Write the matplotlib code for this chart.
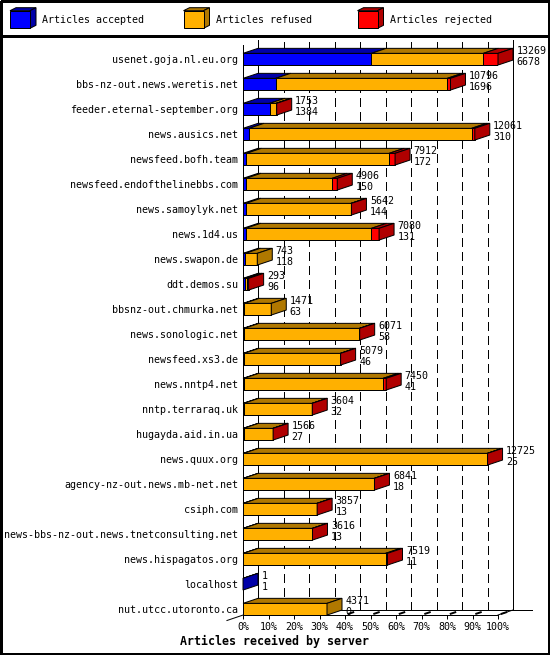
import matplotlib
matplotlib.use("Agg")
import matplotlib.pyplot as plt
from matplotlib.patches import Polygon, Rectangle
from matplotlib.transforms import ScaledTranslation
import numpy as np

# ---------------- data ----------------
servers = [
    "usenet.goja.nl.eu.org",
    "bbs-nz-out.news.weretis.net",
    "feeder.eternal-september.org",
    "news.ausics.net",
    "newsfeed.bofh.team",
    "newsfeed.endofthelinebbs.com",
    "news.samoylyk.net",
    "news.1d4.us",
    "news.swapon.de",
    "ddt.demos.su",
    "bbsnz-out.chmurka.net",
    "news.sonologic.net",
    "newsfeed.xs3.de",
    "news.nntp4.net",
    "nntp.terraraq.uk",
    "hugayda.aid.in.ua",
    "news.quux.org",
    "agency-nz-out.news.mb-net.net",
    "csiph.com",
    "news-bbs-nz-out.news.tnetconsulting.net",
    "news.hispagatos.org",
    "localhost",
    "nut.utcc.utoronto.ca",
]
offered = [13269, 10796, 1753, 12061, 7912, 4906, 5642, 7080, 743, 293, 1471,
           6071, 5079, 7450, 3604, 1566, 12725, 6841, 3857, 3616, 7519, 1, 4371]
accepted = [6678, 1696, 1384, 310, 172, 150, 144, 131, 118, 96, 63,
            58, 46, 41, 32, 27, 25, 18, 13, 13, 11, 1, 0]
refused = [5826, 8930, 329, 11581, 7430, 4481, 5478, 6549, 625, 102, 1408,
           6003, 5023, 7249, 3564, 1531, 12690, 6817, 3839, 3598, 7408, 0, 4371]
rejected = [765, 170, 40, 170, 310, 275, 20, 400, 0, 95, 0,
            10, 10, 160, 8, 8, 10, 6, 5, 5, 100, 0, 0]
x_ticks = [0, 10, 20, 30, 40, 50, 60, 70, 80, 90, 100]
x_tick_labels = ["0%", "10%", "20%", "30%", "40%", "50%", "60%", "70%",
                 "80%", "90%", "100%"]
legend_labels = ["Articles accepted", "Articles refused", "Articles rejected"]
x_title = "Articles received by server"

# ---------------- style ----------------
FRONT = ["#0000FF", "#FFB000", "#FF0000"]
DARK = ["#0000A8", "#B07800", "#B00000"]
LW = 0.72
plt.rcParams["font.family"] = ["DejaVu Sans Mono"]
plt.rcParams["font.size"] = 7.2
plt.rcParams["lines.scale_dashes"] = False

W, H, DPI = 550, 655, 100
fig = plt.figure(figsize=(W / DPI, H / DPI), dpi=DPI)
fig.patch.set_facecolor("white")


def box(x0, y0, x1, y1):
    return [x0 / W, 1 - y1 / H, (x1 - x0) / W, (y1 - y0) / H]


# background / frame axes in pixel units
axbg = fig.add_axes([0, 0, 1, 1])
axbg.set_xlim(0, W)
axbg.set_ylim(H, 0)
axbg.axis("off")
axbg.set_zorder(0)
axbg.add_patch(Rectangle((0.5, 0.5), W - 1.5, H - 1.5, fill=False,
                         edgecolor="black", lw=LW * 1.4, antialiased=False))
axbg.plot([0, W], [35.5, 35.5], color="black", lw=LW * 1.4, antialiased=False)

# legend (3-D cubes)
leg_x = [10, 183.5, 357.5]
for lx, fc, dc, lab in zip(leg_x, FRONT, DARK, legend_labels):
    x0, y0, x1, y1 = lx, 10.7, lx + 20, 28.3
    d, e = 6, 3
    axbg.add_patch(Polygon([(x0, y0), (x0 + d, y0 - e), (x1 + d, y0 - e), (x1, y0)],
                           closed=True, facecolor=dc, edgecolor="black", lw=LW))
    axbg.add_patch(Polygon([(x1, y0), (x1 + d, y0 - e), (x1 + d, y1 - e), (x1, y1)],
                           closed=True, facecolor=dc, edgecolor="black", lw=LW))
    axbg.add_patch(Rectangle((x0, y0), x1 - x0, y1 - y0, facecolor=fc,
                             edgecolor="black", lw=LW))
    axbg.text(x1 + d + 6.5, 23.3, lab, va="baseline", ha="left", fontsize=7.2)

# ---------------- main chart ----------------
ax = fig.add_axes(box(243, 45, 498, 615))
ax.set_zorder(1)
ax.patch.set_visible(False)
n = len(servers)
row0, pitch = 59.2, 25.0
ax.set_xlim(0, 100)
ax.set_ylim((615 - row0) / pitch, (45 - row0) / pitch)
ylo, yhi = ax.get_ylim()

DX, DY = 15, 5  # depth in pixels
back = ax.transData + ScaledTranslation(DX / DPI, DY / DPI, fig.dpi_scale_trans)
inv = ax.transData.inverted()
o = ax.transData.transform((0, 0))
ddx, ddy = inv.transform(o + np.array([DX, DY]))

# back wall grid
for t in x_ticks:
    if t in (0, 100):
        ax.plot([t, t], [ylo, yhi], transform=back, color="black", lw=LW,
                clip_on=False, zorder=0.5, antialiased=False)
    else:
        ax.plot([t, t], [ylo, yhi], transform=back, color="black", lw=LW,
                ls=(0, (6, 4)), clip_on=False, zorder=0.5, antialiased=False)
    # floor marks
    ax.plot([t + 0.25 * ddx, t + 0.55 * ddx], [ylo + 0.25 * ddy, ylo + 0.55 * ddy],
            color="black", lw=1.4, clip_on=False, zorder=0.6)
ax.plot([0, 107.5], [ylo, ylo], transform=back, color="black", lw=LW,
        clip_on=False, zorder=0.5, antialiased=False)
ax.plot([100, 100 + ddx], [ylo, ylo + ddy], color="black", lw=LW,
        clip_on=False, zorder=0.5)
ax.plot([ddx, -1.07 * ddx], [ylo + ddy, ylo - 1.1 * ddy], color="black", lw=LW,
        clip_on=False, zorder=0.5)

maxv = max(offered)
ypos = np.arange(n)
h = 11.7 / pitch
series = [accepted, refused, rejected]
left = np.zeros(n)
for k, vals in enumerate(series):
    w = np.array(vals) / maxv * 100
    ax.barh(ypos, w, left=left, height=h, color=FRONT[k], edgecolor="black",
            lw=LW, zorder=3)
    for i in range(n):
        if w[i] > 0:
            yt = i - h / 2
            x0, x1 = left[i], left[i] + w[i]
            ax.add_patch(Polygon([(x0, yt), (x1, yt), (x1 + ddx, yt + ddy),
                                  (x0 + ddx, yt + ddy)], closed=True,
                                 facecolor=DARK[k], edgecolor="black", lw=LW,
                                 zorder=3, clip_on=False))
    left = left + w

for i in range(n):
    last = max(k for k in range(3) if series[k][i] > 0)
    end = left[i]
    yt, yb = i - h / 2, i + h / 2
    ax.add_patch(Polygon([(end, yt), (end + ddx, yt + ddy), (end + ddx, yb + ddy),
                          (end, yb)], closed=True, facecolor=DARK[last],
                         edgecolor="black", lw=LW, zorder=3, clip_on=False))
    ax.annotate(str(offered[i]), xy=(end, i), xytext=(13.3, 3.7),
                textcoords="offset points", ha="left", va="baseline",
                fontsize=7.2, zorder=4, annotation_clip=False)
    ax.annotate(str(accepted[i]), xy=(end, i), xytext=(13.3, -4.4),
                textcoords="offset points", ha="left", va="baseline",
                fontsize=7.2, zorder=4, annotation_clip=False)

for s in ("top", "right"):
    ax.spines[s].set_visible(False)
for s in ("left", "bottom"):
    ax.spines[s].set_linewidth(LW)
ax.set_yticks(ypos, servers)
ax.tick_params(axis="y", length=0, pad=3.6, labelsize=7.2)
ax.set_xticks(x_ticks, x_tick_labels)
ax.tick_params(axis="x", direction="out", length=3, width=LW, pad=2, labelsize=7.2)

fig.text(0.5, 1 - 645 / H, x_title, ha="center", va="baseline",
         fontsize=8.4, fontweight="bold")

fig.savefig("out.png", dpi=DPI, facecolor="white")
